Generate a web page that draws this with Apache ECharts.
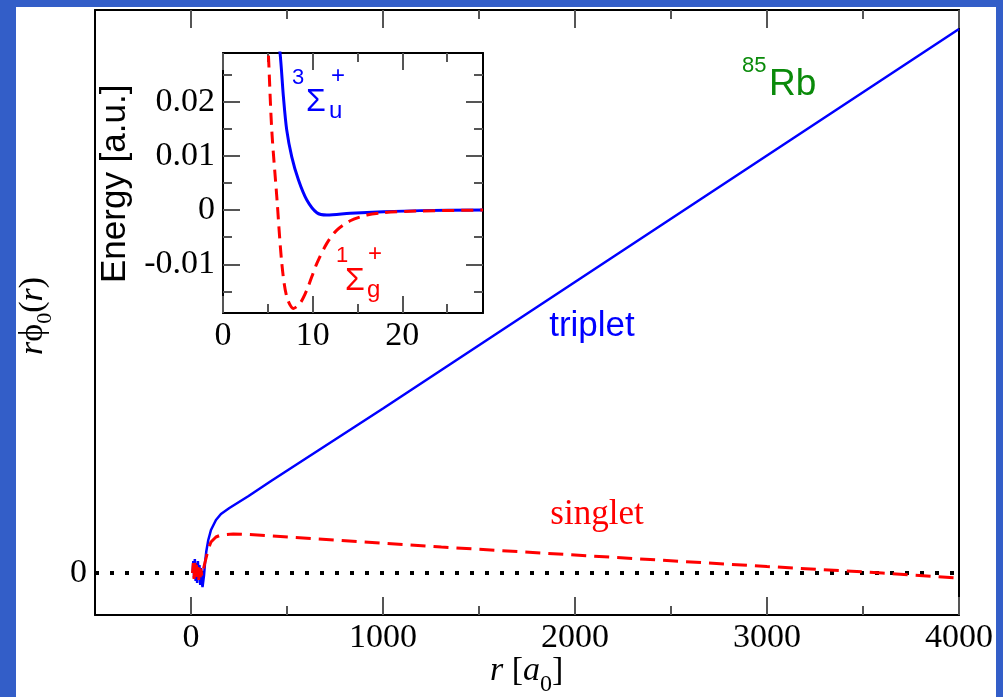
<!DOCTYPE html>
<html><head><meta charset="utf-8">
<script src="https://cdn.jsdelivr.net/npm/echarts@6/dist/echarts.min.js"></script>
<style>
html,body{margin:0;padding:0;background:#335ec8;width:1003px;height:697px;overflow:hidden}
#paper{position:absolute;left:16px;top:7px;width:980px;height:690px;background:#fff}
#chart{position:absolute;left:0;top:0;width:1003px;height:697px}
</style></head>
<body><div id="paper"></div><div id="chart"></div>
<script>
// ---- data ----
const mainXTicks = [0, 1000, 2000, 3000, 4000];
const mainXMinor = [500, 1500, 2500, 3500];
const mainYTicks = [0];
const insetXTicks = [0, 10, 20];
const insetXMinor = [5, 15, 25];
const insetYTicks = [-0.01, 0, 0.01, 0.02];
const insetYMinor = [-0.015, -0.005, 0.005, 0.015, 0.025];

const tripletR = [8, 12, 16, 20, 24, 28, 32, 36, 40, 44, 48, 52, 56, 60, 64, 68, 74, 80, 90, 104, 130, 156, 200, 300, 417, 1000, 2000, 3000, 4000];
const tripletY = [0, 0.12, -0.05, 0.14, -0.08, 0.10, -0.10, 0.12, -0.06, 0.08, -0.12, 0.05, -0.08, -0.14, -0.16, -0.02, 0.12, 0.22, 0.33, 0.43, 0.53, 0.59, 0.65, 0.77, 0.92, 1.645, 2.91, 4.175, 5.44];
const singletR = [8, 12, 16, 20, 24, 28, 32, 36, 40, 44, 48, 52, 56, 60, 66, 72, 80, 90, 104, 130, 156, 220, 300, 662, 1304, 2000, 3000, 3600, 4000];
const singletY = [0, 0.10, -0.06, 0.12, -0.04, 0.08, -0.08, 0.06, -0.07, 0.05, -0.05, 0.04, -0.03, 0.0, 0.05, 0.10, 0.16, 0.24, 0.31, 0.36, 0.38, 0.39, 0.385, 0.34, 0.26, 0.18, 0.065, 0.0, -0.05];

const potTripletR = [6.0, 6.37, 6.74, 7.11, 7.67, 8.42, 9.35, 10.47, 11.58, 14.19, 17.9, 22, 29];
const potTripletE = [0.033, 0.0289, 0.0209, 0.01476, 0.00984, 0.00554, 0.00185, -0.0005, -0.00092, -0.0006, -0.0003, -0.0001, 0];
const potSingletR = [4.95, 5.06, 5.44, 6.0, 6.56, 7.11, 7.86, 8.6, 9.35, 10.47, 11.58, 12.7, 14.19, 16.05, 17.9, 21.6, 29];
const potSingletE = [0.032, 0.0289, 0.01476, 0.00246, -0.00984, -0.016, -0.01815, -0.0172, -0.01476, -0.00984, -0.00615, -0.00369, -0.00197, -0.00092, -0.00049, -0.00018, 0];

const zeroLineX = [-500, 4000];
const zeroLineY = [0, 0];

// ---- helpers ----
const zip = (a, b) => a.map((v, i) => [v, b[i]]);
const SERIF = '"Liberation Serif", "Times New Roman", serif';
const SANS = '"Liberation Sans", Arial, sans-serif';
const mctx = document.createElement('canvas').getContext('2d');
function txt(t, x, baseline, size, family, color, style, align) {
  const font = (style || 'normal') + ' ' + size + 'px ' + family;
  return { type: 'text', x: x, y: baseline - 0.34 * size, z: 100,
    style: { text: t, font: font, fill: color, textAlign: align || 'left', textVerticalAlign: 'middle' } };
}
function run(x0, y0, rotation, parts) {
  let cx = 0; const children = [];
  parts.forEach(p => {
    const font = (p.style || 'normal') + ' ' + p.size + 'px ' + p.family;
    mctx.font = font;
    children.push(txt(p.t, cx + (p.dx || 0), p.dy || 0, p.size, p.family, p.color || '#000', p.style));
    cx += mctx.measureText(p.t).width + (p.dx || 0);
  });
  return { type: 'group', x: x0, y: y0, rotation: rotation, z: 100, children: children };
}

const tickCol = '#555';
function xAx(grid, pos, min, max, major, labels, len, lineOn, fmt, fs) {
  return {
    type: 'value', gridIndex: grid, position: pos, min: min, max: max,
    splitLine: { show: false },
    axisLine: { show: lineOn, onZero: false, lineStyle: { color: '#000', width: 2 } },
    axisTick: { show: true, inside: true, length: len, customValues: major, lineStyle: { color: tickCol, width: 2 } },
    axisLabel: labels ? { show: true, customValues: labels, fontFamily: SERIF, fontSize: fs || 34, color: '#000', margin: 6, formatter: fmt } : { show: false }
  };
}
function yAx(grid, pos, min, max, major, labels, len, lineOn, fmt, fs) {
  return {
    type: 'value', gridIndex: grid, position: pos, min: min, max: max,
    splitLine: { show: false },
    axisLine: { show: lineOn, onZero: false, lineStyle: { color: '#000', width: 2 } },
    axisTick: major ? { show: true, inside: true, length: len, customValues: major, lineStyle: { color: tickCol, width: 2 } } : { show: false },
    axisLabel: labels ? { show: true, customValues: labels, fontFamily: SERIF, fontSize: fs || 34, color: '#000', margin: 8, formatter: fmt } : { show: false }
  };
}
const insetFmt = v => (Math.abs(v) < 1e-9 ? '0' : String(+v.toFixed(3)));

const chart = echarts.init(document.getElementById('chart'), null, { renderer: 'canvas' });
chart.setOption({
  animation: false,
  backgroundColor: 'transparent',
  grid: [
    { left: 95, top: 10, width: 864, height: 605 },
    { left: 223, top: 53, width: 260, height: 260, show: true, backgroundColor: '#fff', borderWidth: 0, z: 5 }
  ],
  xAxis: [
    xAx(0, 'bottom', -500, 4000, mainXTicks, mainXTicks, 18, true, v => String(v), 34),
    xAx(0, 'bottom', -500, 4000, mainXMinor, null, 9, false),
    xAx(0, 'top', -500, 4000, mainXTicks, null, 18, true),
    xAx(0, 'top', -500, 4000, mainXMinor, null, 9, false),
    Object.assign(xAx(1, 'bottom', 0, 29, insetXTicks, insetXTicks, 17, true, v => String(v), 34), { z: 6 }),
    Object.assign(xAx(1, 'bottom', 0, 29, insetXMinor, null, 9, false), { z: 6 }),
    Object.assign(xAx(1, 'top', 0, 29, insetXTicks, null, 17, true), { z: 6 }),
    Object.assign(xAx(1, 'top', 0, 29, insetXMinor, null, 9, false), { z: 6 })
  ],
  yAxis: [
    yAx(0, 'left', -0.42, 5.63, null, mainYTicks, 0, true, v => String(v), 34),
    yAx(0, 'right', -0.42, 5.63, null, null, 0, true),
    Object.assign(yAx(1, 'left', -0.019, 0.029, insetYTicks, insetYTicks, 17, true, insetFmt, 34), { z: 6 }),
    Object.assign(yAx(1, 'left', -0.019, 0.029, insetYMinor, null, 9, false), { z: 6 }),
    Object.assign(yAx(1, 'right', -0.019, 0.029, insetYTicks, null, 17, true), { z: 6 }),
    Object.assign(yAx(1, 'right', -0.019, 0.029, insetYMinor, null, 9, false), { z: 6 })
  ],
  series: [
    { type: 'line', xAxisIndex: 0, yAxisIndex: 0, data: zip(zeroLineX, zeroLineY), showSymbol: false, silent: true,
      lineStyle: { color: '#000', width: 4, type: [4, 11], cap: 'butt' }, z: 2 },
    { type: 'line', name: 'triplet', xAxisIndex: 0, yAxisIndex: 0, data: zip(tripletR, tripletY), showSymbol: false,
      lineStyle: { color: '#0000ff', width: 2.5 }, z: 3 },
    { type: 'line', name: 'singlet', xAxisIndex: 0, yAxisIndex: 0, data: zip(singletR, singletY), showSymbol: false,
      lineStyle: { color: '#ff0000', width: 3, type: [15, 8] }, z: 4 },
    { type: 'line', name: 'pot triplet', xAxisIndex: 4, yAxisIndex: 2, data: zip(potTripletR, potTripletE), showSymbol: false, smooth: 0.3,
      lineStyle: { color: '#0000ff', width: 3 }, z: 7, clip: true },
    { type: 'line', name: 'pot singlet', xAxisIndex: 4, yAxisIndex: 2, data: zip(potSingletR, potSingletE), showSymbol: false, smooth: 0.3,
      lineStyle: { color: '#ff0000', width: 3, type: [12, 7] }, z: 8, clip: true }
  ],
  graphic: [
    run(45, 355, Math.PI / 2, [
      { t: 'r', size: 34, family: SERIF, style: 'italic' },
      { t: 'ϕ', size: 34, family: SERIF },
      { t: '0', size: 22, family: SERIF, dy: 8 },
      { t: '(', size: 34, family: SERIF },
      { t: 'r', size: 34, family: SERIF, style: 'italic' },
      { t: ')', size: 34, family: SERIF }
    ]),
    run(490, 683, 0, [
      { t: 'r', size: 34, family: SERIF, style: 'italic' },
      { t: ' [', size: 34, family: SERIF },
      { t: 'a', size: 34, family: SERIF, style: 'italic' },
      { t: '0', size: 24, family: SERIF, dy: 10 },
      { t: ']', size: 34, family: SERIF }
    ]),
    run(127, 283, Math.PI / 2, [
      { t: 'Energy [a.u.]', size: 35, family: SANS }
    ]),
    txt('3', 292, 85, 22, SANS, '#0000ff'),
    txt('Σ', 306, 113, 32, SANS, '#0000ff'),
    txt('u', 329, 120, 24, SANS, '#0000ff'),
    txt('+', 331, 85, 24, SANS, '#0000ff'),
    txt('1', 336, 263, 22, SANS, '#ff0000'),
    txt('Σ', 345, 292, 32, SANS, '#ff0000'),
    txt('g', 367, 299, 24, SANS, '#ff0000'),
    txt('+', 368, 263, 24, SANS, '#ff0000'),
    txt('85', 742, 73, 22, SANS, '#0a8a0a'),
    txt('Rb', 769, 97, 37, SANS, '#0a8a0a'),
    txt('triplet', 592, 338, 35, SANS, '#0000ff', 'normal', 'center'),
    txt('singlet', 597, 527, 35, SERIF, '#ff0000', 'normal', 'center')
  ]
});
</script>
</body></html>
